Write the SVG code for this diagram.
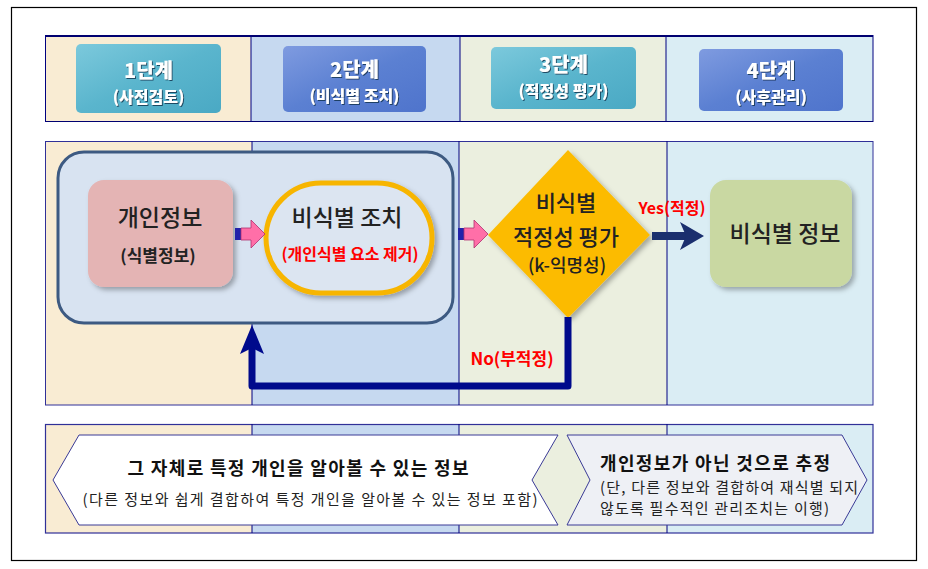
<svg xmlns="http://www.w3.org/2000/svg" width="928" height="569" viewBox="0 0 928 569">
<defs>
  <style>
    .kr{font-family:"Noto Sans CJK KR","Noto Sans",sans-serif}
    .hd{font-family:"Noto Sans CJK KR",sans-serif;font-weight:900;fill:#fff;text-anchor:middle}
    .h1{font-size:20px}.h2{font-size:16px}
    .c1{fill:#f9ecd3}.c2{fill:#c6d9f0}.c3{fill:#ebefdf}.c4{fill:#daedf4}
    .col{stroke:#000080;stroke-width:1;fill:none}
    .lbl{font-family:"Noto Sans CJK KR",sans-serif;text-anchor:middle}
    .red{fill:#ff0000;font-weight:700}
  </style>
  <linearGradient id="gTeal" x1="0" y1="0" x2="1" y2="1">
    <stop offset="0" stop-color="#7cc9dc"/><stop offset="0.5" stop-color="#5ab5cd"/><stop offset="1" stop-color="#4aa9c4"/>
  </linearGradient>
  <linearGradient id="gBlue" x1="0" y1="0" x2="1" y2="1">
    <stop offset="0" stop-color="#7f9be0"/><stop offset="0.5" stop-color="#5b80d2"/><stop offset="1" stop-color="#4f74cc"/>
  </linearGradient>
  <filter id="sh" x="-10%" y="-10%" width="130%" height="130%">
    <feDropShadow dx="3" dy="3" stdDeviation="2.5" flood-color="#000" flood-opacity="0.3"/>
  </filter>
  <filter id="tsh" x="-10%" y="-20%" width="130%" height="150%">
    <feDropShadow dx="1" dy="1" stdDeviation="0.6" flood-color="#10304a" flood-opacity="0.8"/>
  </filter>
  <g id="pinkArrow">
    <rect x="0" y="-6" width="6" height="12" fill="#2222aa"/>
    <path d="M6,-6 L16,-6 L16,-14 L30,0 L16,14 L16,6 L6,6 Z" fill="#ff6fa8" stroke="#b03070" stroke-width="0.8"/>
  </g>
</defs>

<rect x="0" y="0" width="928" height="569" fill="#fff"/>
<rect x="11.5" y="7.5" width="905" height="553" fill="#fff" stroke="#000" stroke-width="1.2"/>

<!-- header band -->
<g id="header-band">
  <rect class="c1" x="45" y="35" width="206" height="87"/>
  <rect class="c2" x="251" y="35" width="209" height="87"/>
  <rect class="c3" x="460" y="35" width="206" height="87"/>
  <rect class="c4" x="666" y="35" width="207" height="87"/>
  <line x1="45" y1="36" x2="873" y2="36" stroke="#000070" stroke-width="2"/>
  <line x1="45" y1="121.5" x2="873" y2="121.5" stroke="#000070" stroke-width="1.2"/>
  <line class="col" x1="45.5" y1="35" x2="45.5" y2="122"/>
  <line class="col" x1="251" y1="35" x2="251" y2="122"/>
  <line class="col" x1="460" y1="35" x2="460" y2="122"/>
  <line class="col" x1="666" y1="35" x2="666" y2="122"/>
  <line class="col" x1="873" y1="35" x2="873" y2="122"/>
</g>

<g id="stage1">
  <rect x="76" y="44" width="145" height="69" rx="5" fill="url(#gTeal)"/>
  <g filter="url(#tsh)">
    <text class="hd h1" x="148.5" y="78">1단계</text>
    <text class="hd h2" x="148.5" y="102.5">(사전검토)</text>
  </g>
</g>
<g id="stage2">
  <rect x="283" y="46" width="143" height="66" rx="5" fill="url(#gBlue)"/>
  <g filter="url(#tsh)">
    <text class="hd h1" x="354.5" y="77">2단계</text>
    <text class="hd h2" x="354.5" y="101.5">(비식별 조치)</text>
  </g>
</g>
<g id="stage3">
  <rect x="491" y="47" width="145" height="62" rx="5" fill="url(#gTeal)"/>
  <g filter="url(#tsh)">
    <text class="hd h1" x="563.5" y="72">3단계</text>
    <text class="hd h2" x="563.5" y="96.5">(적정성 평가)</text>
  </g>
</g>
<g id="stage4">
  <rect x="699" y="49" width="144" height="62" rx="5" fill="url(#gBlue)"/>
  <g filter="url(#tsh)">
    <text class="hd h1" x="771" y="78">4단계</text>
    <text class="hd h2" x="771" y="102.5">(사후관리)</text>
  </g>
</g>

<!-- middle band -->
<g id="middle-band">
  <rect class="c1" x="45" y="141" width="207" height="264"/>
  <rect class="c2" x="252" y="141" width="207" height="264"/>
  <rect class="c3" x="459" y="141" width="208" height="264"/>
  <rect class="c4" x="667" y="141" width="206" height="264"/>
  <rect x="45.5" y="141.5" width="827.5" height="263.5" fill="none" stroke="#303098" stroke-width="1"/>
  <line class="col" x1="252" y1="141" x2="252" y2="405"/>
  <line class="col" x1="459" y1="141" x2="459" y2="405"/>
  <line class="col" x1="667" y1="141" x2="667" y2="405"/>
</g>

<g id="container">
  <rect x="58" y="152" width="395" height="171" rx="26" fill="#d8e3f1" stroke="#3d5a82" stroke-width="3"/>
</g>

<g id="personal-info">
  <rect x="88" y="180" width="145" height="107" rx="16" fill="#e4b4b4" filter="url(#sh)"/>
  <text class="lbl" x="160" y="226" font-size="23" font-weight="500" fill="#222">개인정보</text>
  <text class="lbl" x="158" y="262" font-size="17" font-weight="700" fill="#222">(식별정보)</text>
</g>

<g id="deid-action">
  <rect x="266" y="183" width="166" height="110" rx="55" fill="#dce5f1" stroke="#f7b500" stroke-width="5" filter="url(#sh)"/>
  <text class="lbl" x="347" y="226" font-size="23" font-weight="500" fill="#222">비식별 조치</text>
  <text class="lbl red" x="350" y="260" font-size="16">(개인식별 요소 제거)</text>
</g>

<g id="assessment">
  <polygon points="568,150 650,235 568,318 488,235" fill="#fcbb00" filter="url(#sh)"/>
  <text class="lbl" x="566" y="211" font-size="22" font-weight="500" fill="#222">비식별</text>
  <text class="lbl" x="566" y="245" font-size="22" font-weight="500" fill="#222">적정성 평가</text>
  <text class="lbl" x="567" y="272" font-size="18" font-weight="500" fill="#222">(k-익명성)</text>
</g>

<g id="deid-info">
  <rect x="710" y="180" width="142" height="107" rx="16" fill="#c9d8a2" filter="url(#sh)"/>
  <text class="lbl" x="785" y="242" font-size="23" font-weight="500" fill="#222">비식별 정보</text>
</g>

<!-- connectors -->
<g id="connectors">
  <use href="#pinkArrow" x="235" y="234"/>
  <use href="#pinkArrow" x="458" y="234"/>
  <line x1="652" y1="236" x2="690" y2="236" stroke="#1a2f6e" stroke-width="8"/>
  <path d="M680,222 L704,236 L680,250 L686,236 Z" fill="#1a2f6e"/>
  <polyline points="568,317 568,386 252,386 252,345" fill="none" stroke="#000a8c" stroke-width="7" stroke-linejoin="round"/>
  <path d="M240,354 L252,325 L264,354 L252,348 Z" fill="#000a8c"/>
  <text class="lbl red" x="672" y="214" font-size="16">Yes(적정)</text>
  <text class="lbl red" x="512" y="365" font-size="17">No(부적정)</text>
</g>

<!-- bottom band -->
<g id="bottom-band">
  <rect class="c1" x="45" y="424" width="207" height="109"/>
  <rect class="c2" x="252" y="424" width="207" height="109"/>
  <rect class="c3" x="459" y="424" width="208" height="109"/>
  <rect class="c4" x="667" y="424" width="206" height="109"/>
  <rect x="45.5" y="424.5" width="827.5" height="108.5" fill="none" stroke="#303098" stroke-width="1.2"/>
  <line class="col" x1="252" y1="424" x2="252" y2="533"/>
  <line class="col" x1="459" y1="424" x2="459" y2="533"/>
  <line class="col" x1="667" y1="424" x2="667" y2="533"/>
</g>

<g id="identifiable">
  <polygon points="79,435 558,435 532,480 558,525 79,525 53,480" fill="#fff" stroke="#3a3a96" stroke-width="1"/>
  <text class="lbl" x="298" y="475" font-size="18" font-weight="700" fill="#111" textLength="341" lengthAdjust="spacing">그 자체로 특정 개인을 알아볼 수 있는 정보</text>
  <text class="lbl" x="310" y="505" font-size="15" fill="#222" textLength="455" lengthAdjust="spacing">(다른 정보와 쉽게 결합하여 특정 개인을 알아볼 수 있는 정보 포함)</text>
</g>

<g id="presumed">
  <polygon points="567,435 842,435 867,480 842,525 567,525 590,480" fill="#eef0f5" stroke="#3a3a96" stroke-width="1"/>
  <text class="lbl" x="715" y="470" font-size="18" font-weight="700" fill="#111" textLength="230" lengthAdjust="spacing">개인정보가 아닌 것으로 추정</text>
  <text x="600" y="493" class="kr" font-size="15" fill="#222" textLength="258" lengthAdjust="spacing">(단, 다른 정보와 결합하여 재식별 되지</text>
  <text x="600" y="514" class="kr" font-size="15" fill="#222" textLength="229" lengthAdjust="spacing">않도록 필수적인 관리조치는 이행)</text>
</g>
</svg>
